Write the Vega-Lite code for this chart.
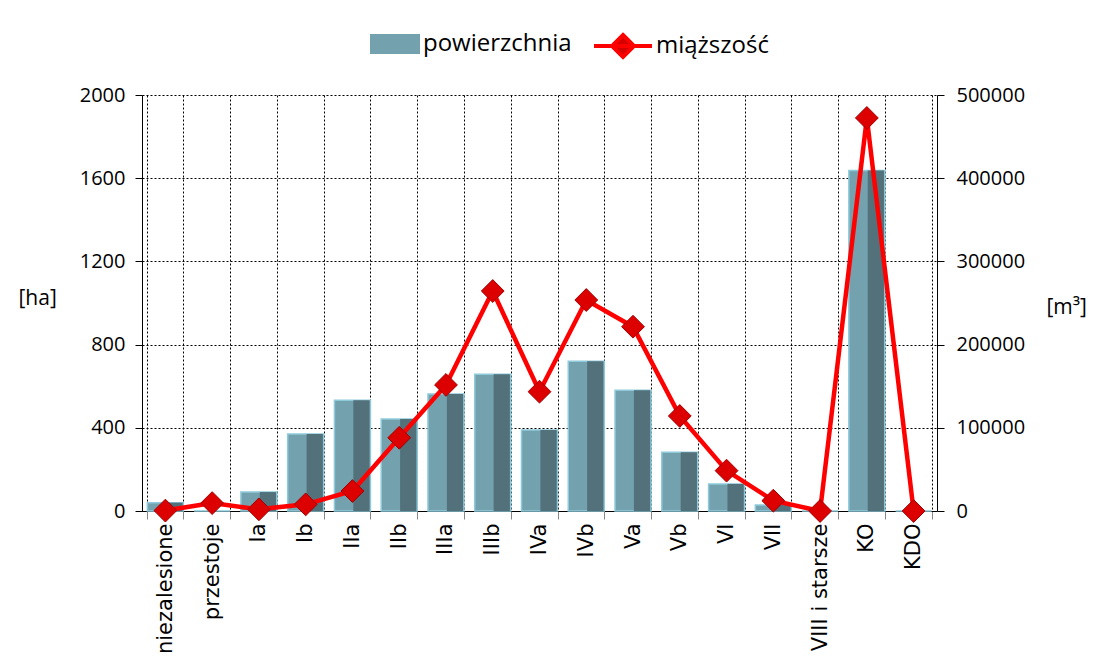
{
  "$schema": "https://vega.github.io/schema/vega-lite/v6.json",
  "width": 795,
  "height": 416,
  "autosize": {"type": "none"},
  "padding": {"left": 142, "top": 95, "right": 156, "bottom": 151},
  "background": "white",
  "config": {
    "font": "Open Sans",
    "view": {"stroke": null},
    "axis": {"labelColor": "black", "titleColor": "black", "domainColor": "black", "tickColor": "black", "labelFontSize": 20, "titleFontSize": 21, "titleFontWeight": "normal", "titleFont": "Open Sans", "labelFont": "Open Sans"},
    "legend": {"labelFontSize": 24, "labelFont": "Open Sans", "labelColor": "black", "padding": 0, "titleFontSize": 1}
  },
  "data": {
    "values": [
      {"klasa": "niezalesione", "ha": 40, "m3": 500, "s1": "powierzchnia", "s2": "miąższość"},
      {"klasa": "przestoje", "ha": 0, "m3": 9500, "s1": "powierzchnia", "s2": "miąższość"},
      {"klasa": "Ia", "ha": 91, "m3": 2000, "s1": "powierzchnia", "s2": "miąższość"},
      {"klasa": "Ib", "ha": 370, "m3": 8000, "s1": "powierzchnia", "s2": "miąższość"},
      {"klasa": "IIa", "ha": 533, "m3": 24000, "s1": "powierzchnia", "s2": "miąższość"},
      {"klasa": "IIb", "ha": 442, "m3": 88000, "s1": "powierzchnia", "s2": "miąższość"},
      {"klasa": "IIIa", "ha": 562, "m3": 151500, "s1": "powierzchnia", "s2": "miąższość"},
      {"klasa": "IIIb", "ha": 658, "m3": 264400, "s1": "powierzchnia", "s2": "miąższość"},
      {"klasa": "IVa", "ha": 389, "m3": 143400, "s1": "powierzchnia", "s2": "miąższość"},
      {"klasa": "IVb", "ha": 720, "m3": 253600, "s1": "powierzchnia", "s2": "miąższość"},
      {"klasa": "Va", "ha": 581, "m3": 221500, "s1": "powierzchnia", "s2": "miąższość"},
      {"klasa": "Vb", "ha": 283, "m3": 114200, "s1": "powierzchnia", "s2": "miąższość"},
      {"klasa": "VI", "ha": 130, "m3": 48500, "s1": "powierzchnia", "s2": "miąższość"},
      {"klasa": "VII", "ha": 29, "m3": 12400, "s1": "powierzchnia", "s2": "miąższość"},
      {"klasa": "VIII i starsze", "ha": 0, "m3": 0, "s1": "powierzchnia", "s2": "miąższość"},
      {"klasa": "KO", "ha": 1637, "m3": 472400, "s1": "powierzchnia", "s2": "miąższość"},
      {"klasa": "KDO", "ha": 0, "m3": 0, "s1": "powierzchnia", "s2": "miąższość"}
    ]
  },
  "encoding": {
    "x": {
      "field": "klasa", "type": "nominal", "sort": null,
      "scale": {"paddingInner": 0.23, "paddingOuter": 0.115},
      "axis": {"title": null, "labelAngle": -90, "labelAlign": "right", "labelBaseline": "middle", "labelPadding": 4, "labelFont": "DejaVu Sans", "labelFontSize": 21, "labelLimit": 300, "tickBand": "extent", "grid": true, "gridDash": [2, 2], "gridColor": "black", "gridOpacity": 1, "tickSize": 8, "tickColor": "#888888"}
    }
  },
  "layer": [
    {
      "encoding": {
        "y": {
          "field": "ha", "type": "quantitative",
          "scale": {"domain": [0, 2000], "nice": false},
          "axis": {"title": "[ha]", "titleAngle": 0, "titleX": -124, "titleY": 203, "titleAlign": "left", "titleBaseline": "middle", "values": [0, 400, 800, 1200, 1600, 2000], "format": "d", "grid": true, "gridDash": [2, 2], "gridColor": "black", "gridOpacity": 1, "tickSize": 7, "labelPadding": 10}
        }
      },
      "layer": [
        {
          "mark": {"type": "bar", "stroke": "#8fcadb", "strokeWidth": 1.5},
          "encoding": {
            "fill": {
              "field": "s1", "type": "nominal",
              "scale": {"domain": ["powierzchnia"], "range": ["#74a1ae"]},
              "legend": {"title": null, "orient": "none", "legendX": 228, "legendY": -76, "symbolType": "M-1,-0.4L1,-0.4L1,0.4L-1,0.4Z", "symbolSize": 2500, "symbolStrokeWidth": 0, "symbolOpacity": 1, "labelOffset": 3}
            }
          }
        },
        {
          "mark": {"type": "bar", "color": "#52717b", "width": {"band": 0.45}, "xOffset": 9}
        }
      ]
    },
    {
      "encoding": {
        "y": {
          "field": "m3", "type": "quantitative",
          "scale": {"domain": [0, 500000], "nice": false},
          "axis": {"orient": "right", "title": "[m³]", "titleAngle": 0, "titleX": 109, "titleY": 212, "titleAlign": "left", "titleBaseline": "middle", "values": [0, 100000, 200000, 300000, 400000, 500000], "format": "d", "grid": false, "tickSize": 7, "labelPadding": 12}
        }
      },
      "layer": [
        {
          "mark": {"type": "line", "strokeWidth": 4.5},
          "encoding": {
            "stroke": {
              "field": "s2", "type": "nominal",
              "scale": {"domain": ["miąższość"], "range": ["#ff0000"]},
              "legend": {"title": null, "orient": "none", "legendX": 450, "legendY": -80, "symbolType": "M-1,0L1,0M0,-0.38L0.38,0L0,0.38L-0.38,0Z", "symbolSize": 3364, "symbolStrokeWidth": 4, "symbolFillColor": "#d40000", "labelOffset": 2}
            }
          }
        },
        {
          "mark": {"type": "point", "shape": "diamond", "filled": true, "fill": "#dd0000", "stroke": "#a00000", "strokeWidth": 1, "size": 520, "opacity": 1}
        }
      ]
    }
  ],
  "resolve": {"scale": {"y": "independent"}}
}
